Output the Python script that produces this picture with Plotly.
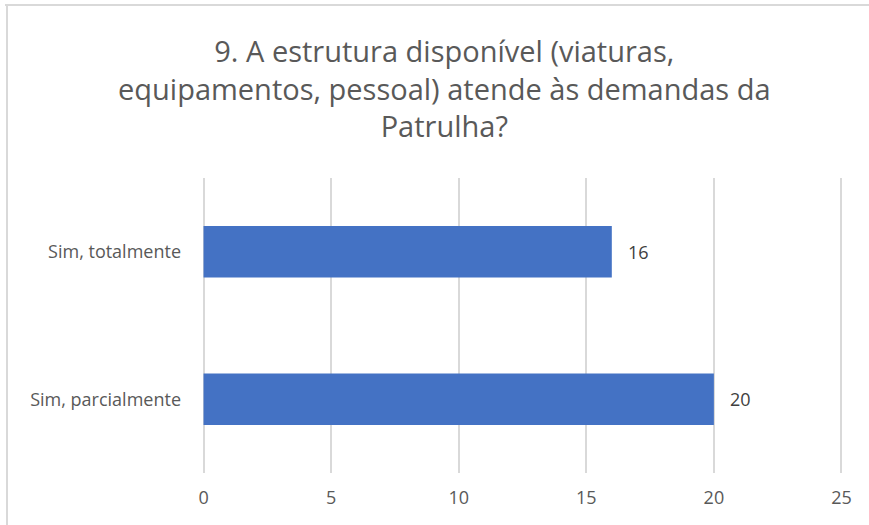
import plotly.graph_objects as go

categories = ["Sim, parcialmente", "Sim, totalmente"]
values = [20, 16]
x_ticks = [0, 5, 10, 15, 20, 25]
title_text = "9. A estrutura disponível (viaturas,<br>equipamentos, pessoal) atende às demandas da<br>Patrulha?"

W, H = 869, 525
pad = 0.06  # small extra range so edge gridlines are drawn
ppu = (841 - 204) / 25.0
L = int(round(204 - pad * ppu))
R = int(round(W - (841 + pad * ppu)))
T, B = 178, 52
pw, ph = W - L - R, H - T - B

def px_x(p):
    return (p - L) / pw

def px_y(p):
    return (H - B - p) / ph

fig = go.Figure(go.Bar(
    x=values, y=categories, orientation="h",
    marker=dict(color="#4472C4", line=dict(width=0)),
    width=0.35,
))

for v, c in zip(values, categories):
    fig.add_annotation(x=v, y=c, xref="x", yref="y", text=str(v), showarrow=False,
                       xanchor="left", yanchor="middle", xshift=14,
                       font=dict(size=18, color="#404040", family="Open Sans"))

fig.add_annotation(x=px_x(444), y=px_y(88), xref="paper", yref="paper",
                   text=title_text, showarrow=False, xanchor="center", yanchor="middle",
                   align="center", font=dict(size=29, color="#595959", family="Open Sans"))

fig.update_layout(
    width=W, height=H,
    margin=dict(l=L, r=R, t=T, b=B),
    paper_bgcolor="white", plot_bgcolor="white",
    font=dict(family="Open Sans", color="#595959"),
    showlegend=False,
    xaxis=dict(range=[-pad, 25 + pad], tickvals=x_ticks, showgrid=True,
               gridcolor="#d9d9d9", gridwidth=2, zeroline=False, showline=False,
               tickfont=dict(size=18, color="#595959"), ticks="", ticklabelstandoff=12),
    yaxis=dict(range=[-0.5, 1.5], showgrid=False, zeroline=False, showline=False,
               tickfont=dict(size=18, color="#595959"), ticks="", ticklabelstandoff=20),
)
fig.add_shape(type="line", xref="paper", yref="paper",
              x0=px_x(5), x1=px_x(869), y0=px_y(5), y1=px_y(5),
              line=dict(color="#d9d9d9", width=2))
fig.add_shape(type="line", xref="paper", yref="paper",
              x0=px_x(7), x1=px_x(7), y0=px_y(5), y1=px_y(525),
              line=dict(color="#d9d9d9", width=2))

fig.write_html("out.html", config={"displayModeBar": False},
               post_script="document.body.style.margin='0px';")
